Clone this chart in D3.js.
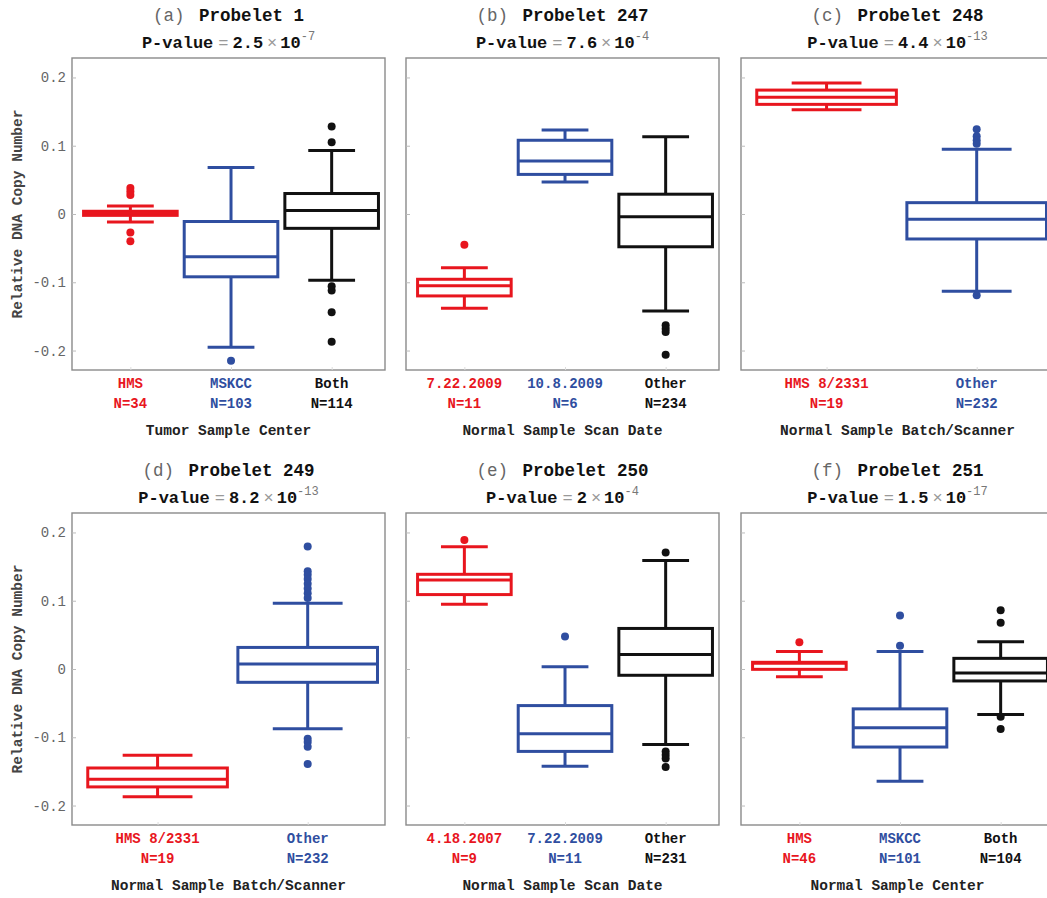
<!DOCTYPE html>
<html><head><meta charset="utf-8">
<script src="https://cdn.jsdelivr.net/npm/d3@7"></script>
<style>body{margin:0;background:#fff;}svg{display:block;}</style>
</head><body>
<svg id="chart" width="1047" height="898"></svg>
<script>
// ---------- data ----------
const panelLetters = ["(a)", "(b)", "(c)", "(d)", "(e)", "(f)"];
const panelTitles = ["Probelet 1", "Probelet 247", "Probelet 248", "Probelet 249", "Probelet 250", "Probelet 251"];
const pMantissa = ["2.5", "7.6", "4.4", "8.2", "2", "1.5"];
const pExponent = ["-7", "-4", "-13", "-13", "-4", "-17"];
const axisTitles = ["Tumor Sample Center", "Normal Sample Scan Date", "Normal Sample Batch/Scanner",
                    "Normal Sample Batch/Scanner", "Normal Sample Scan Date", "Normal Sample Center"];
const groupLabels = [
  ["HMS", "MSKCC", "Both"],
  ["7.22.2009", "10.8.2009", "Other"],
  ["HMS 8/2331", "Other"],
  ["HMS 8/2331", "Other"],
  ["4.18.2007", "7.22.2009", "Other"],
  ["HMS", "MSKCC", "Both"]
];
const groupCounts = [
  [34, 103, 114],
  [11, 6, 234],
  [19, 232],
  [19, 232],
  [9, 11, 231],
  [46, 101, 104]
];
const whiskerLow = [
  [-0.0117, -0.195, -0.097],
  [-0.138, 0.047, -0.142],
  [0.1527, -0.113],
  [-0.1873, -0.0876],
  [0.0949, -0.1426, -0.1105],
  [-0.0112, -0.1645, -0.0667]
];
const quartile1 = [
  [-0.002, -0.092, -0.021],
  [-0.120, 0.058, -0.048],
  [0.1606, -0.0366],
  [-0.1727, -0.0195],
  [0.109, -0.1207, -0.0092],
  [-0.0005, -0.1143, -0.0175]
];
const medians = [
  [0.001, -0.0625, 0.005],
  [-0.105, 0.0776, -0.004],
  [0.171, -0.0078],
  [-0.1616, 0.0073],
  [0.1304, -0.0949, 0.0214],
  [0.0085, -0.0861, -0.0058]
];
const quartile3 = [
  [0.004, -0.011, 0.030],
  [-0.0956, 0.108, 0.029],
  [0.1815, 0.0166],
  [-0.145, 0.0316],
  [0.1387, -0.0536, 0.0594],
  [0.0098, -0.0584, 0.0156]
];
const whiskerHigh = [
  [0.0117, 0.068, 0.093],
  [-0.0786, 0.123, 0.113],
  [0.192, 0.0947],
  [-0.1265, 0.0964],
  [0.179, 0.0034, 0.159],
  [0.0258, 0.0258, 0.0399]
];
const outliers = [
  [[0.038, 0.033, 0.028, -0.027, -0.040], [-0.215], [0.128, 0.105, -0.106, -0.112, -0.144, -0.187]],
  [[-0.045], [], [-0.163, -0.168, -0.173, -0.206]],
  [[], [0.124, 0.114, 0.108, 0.103, -0.119]],
  [[], [0.1796, 0.143, 0.138, 0.132, 0.125, 0.118, 0.111, 0.104, -0.102, -0.107, -0.114, -0.139]],
  [[0.1888], [0.0477], [0.1708, -0.121, -0.126, -0.131, -0.1435]],
  [[0.039], [0.0784, 0.034], [0.0861, 0.0676, -0.070, -0.088]]
];
const yTicks = [-0.2, -0.1, 0, 0.1, 0.2];
const yTickLabels = ["-0.2", "-0.1", "0", "0.1", "0.2"];
const yAxisTitle = "Relative DNA Copy Number";

// ---------- styles / layout ----------
const palette = ["#e8161e", "#2f4ea0", "#111111"];
const FONT = "'Liberation Mono', 'DejaVu Sans Mono', monospace";
const colX = [72, 406, 741];
const rowY = [58, 513];
const PW = 313, PH = 312;

const svg = d3.select("#chart");
const y = d3.scaleLinear().domain([-0.2285, 0.2285]).range([PH, 0]);

panelTitles.forEach((title, p) => {
  const col = p % 3, row = Math.floor(p / 3);
  const g = svg.append("g").attr("transform", `translate(${colX[col]},${rowY[row]})`);
  const n = groupLabels[p].length;
  const x = n === 3
    ? d3.scaleLinear().domain([0.42, 3.53]).range([0, PW])
    : d3.scaleLinear().domain([0.43, 2.515]).range([0, PW]);
  const unit = x(2) - x(1);
  const bw = unit * 0.93;

  // frame
  g.append("rect").attr("x", 0).attr("y", 0).attr("width", PW).attr("height", PH)
    .attr("fill", "none").attr("stroke", "#8a8a8a").attr("stroke-width", 1.4);

  // y ticks (inside)
  const yAxis = d3.axisLeft(y).tickValues(yTicks).tickSizeInner(-4).tickSizeOuter(0)
    .tickFormat((d, i) => col === 0 ? yTickLabels[i] : "");
  const ya = g.append("g").call(yAxis);
  ya.select(".domain").remove();
  ya.selectAll(".tick line").attr("stroke", "#bbb").attr("stroke-width", 1);
  ya.selectAll(".tick text").attr("x", -6).attr("font-family", FONT).attr("font-size", 14)
    .attr("fill", "#666");

  // x ticks faint
  const cats = d3.range(1, n + 1);
  const xa = g.append("g").attr("transform", `translate(0,${PH})`)
    .call(d3.axisBottom(x).tickValues(cats).tickSizeInner(-3).tickSizeOuter(0).tickFormat(""));
  xa.select(".domain").remove();
  xa.selectAll(".tick line").attr("stroke", "#ddd");

  if (col === 0) {
    g.append("text").attr("transform", `translate(${-50},${PH / 2}) rotate(-90)`)
      .attr("text-anchor", "middle").attr("font-family", FONT).attr("font-size", 14.5)
      .attr("font-weight", "bold").attr("fill", "#444").text(yAxisTitle);
  }

  // title
  const tt = g.append("text").attr("x", PW / 2).attr("y", -37).attr("text-anchor", "middle")
    .attr("font-family", FONT).attr("font-size", 17.5);
  tt.append("tspan").attr("fill", "#666").text(panelLetters[p] + " ");
  tt.append("tspan").attr("fill", "#111").attr("font-weight", "bold").attr("dx", 4).text(title);

  const pt = g.append("text").attr("x", PW / 2).attr("y", -10).attr("text-anchor", "middle")
    .attr("font-family", FONT).attr("font-size", 17);
  pt.append("tspan").attr("font-weight", "bold").attr("fill", "#111").text("P-value");
  pt.append("tspan").attr("fill", "#999").attr("dx", 5).text("=");
  pt.append("tspan").attr("font-weight", "bold").attr("fill", "#111").attr("dx", 4).text(pMantissa[p]);
  pt.append("tspan").attr("fill", "#999").attr("dx", 4).text("\u00d7");
  pt.append("tspan").attr("font-weight", "bold").attr("fill", "#111").attr("dx", 3).text("10");
  pt.append("tspan").attr("fill", "#777").attr("font-size", 12).attr("dy", -8).text(pExponent[p]);

  // boxes
  groupLabels[p].forEach((lab, i) => {
    const cx = x(i + 1);
    const c = palette[i];
    const gg = g.append("g").attr("stroke", c).attr("fill", "none").attr("stroke-width", 3);
    // whiskers
    gg.append("line").attr("x1", cx).attr("x2", cx).attr("y1", y(whiskerHigh[p][i])).attr("y2", y(quartile3[p][i]));
    gg.append("line").attr("x1", cx).attr("x2", cx).attr("y1", y(quartile1[p][i])).attr("y2", y(whiskerLow[p][i]));
    // caps
    [whiskerHigh[p][i], whiskerLow[p][i]].forEach(v => {
      gg.append("line").attr("x1", cx - bw / 4).attr("x2", cx + bw / 4).attr("y1", y(v)).attr("y2", y(v));
    });
    // box
    gg.append("rect").attr("x", cx - bw / 2).attr("width", bw)
      .attr("y", y(quartile3[p][i])).attr("height", y(quartile1[p][i]) - y(quartile3[p][i]))
      .attr("fill", "#fff");
    gg.append("line").attr("x1", cx - bw / 2).attr("x2", cx + bw / 2)
      .attr("y1", y(medians[p][i])).attr("y2", y(medians[p][i]));
    // outliers
    g.selectAll(null).data(outliers[p][i]).enter().append("circle")
      .attr("cx", cx).attr("cy", d => y(d)).attr("r", 4).attr("fill", c);

    // labels
    g.append("text").attr("x", cx).attr("y", PH + 18).attr("text-anchor", "middle")
      .attr("font-family", FONT).attr("font-size", 14).attr("font-weight", "bold")
      .attr("fill", c).text(lab);
    g.append("text").attr("x", cx).attr("y", PH + 38).attr("text-anchor", "middle")
      .attr("font-family", FONT).attr("font-size", 14).attr("font-weight", "bold")
      .attr("fill", c).text("N=" + groupCounts[p][i]);
  });

  g.append("text").attr("x", PW / 2).attr("y", PH + 65).attr("text-anchor", "middle")
    .attr("font-family", FONT).attr("font-size", 14.5).attr("font-weight", "bold")
    .attr("fill", "#222").text(axisTitles[p]);
});
</script>
</body></html>
